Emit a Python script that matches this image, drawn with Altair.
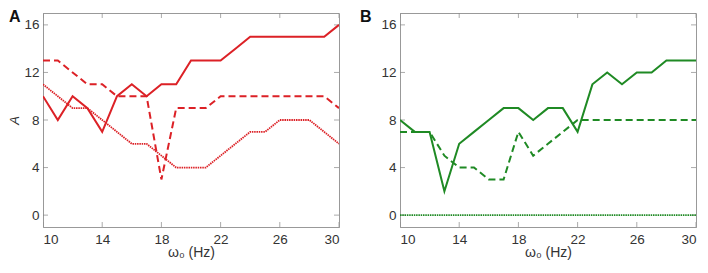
import altair as alt
import pandas as pd

freq = list(range(10, 31))

a_solid = [10, 8, 10, 9, 7, 10, 11, 10, 11, 11, 13, 13, 13, 14, 15, 15, 15, 15, 15, 15, 16]
a_dashed = [13, 13, 12, 11, 11, 10, 10, 10, 3, 9, 9, 9, 10, 10, 10, 10, 10, 10, 10, 10, 9]
a_dotted = [11, 10, 9, 9, 8, 7, 6, 6, 5, 4, 4, 4, 5, 6, 7, 7, 8, 8, 8, 7, 6]

b_solid = [8, 7, 7, 2, 6, 7, 8, 9, 9, 8, 9, 9, 7, 11, 12, 11, 12, 12, 13, 13, 13]
b_dashed = [7, 7, 7, 5, 4, 4, 3, 3, 7, 5, 6, 7, 8, 8, 8, 8, 8, 8, 8, 8, 8]
b_dotted = [0] * 21

x_ticks = [10, 14, 18, 22, 26, 30]
y_ticks = [0, 4, 8, 12, 16]
x_dom = [10, 30]
y_dom = [-1, 17]

RED = "#dc2126"
GREEN = "#1f8a24"
FONT = "Liberation Sans"
W, H = 296, 214


def panel(letter, series, color, ytitle):
    df = pd.DataFrame({"f": freq, "s": series[0], "d": series[1], "p": series[2]})
    xs = alt.Scale(domain=x_dom, nice=False, zero=False)
    ys = alt.Scale(domain=y_dom, nice=False, zero=False)
    xax = alt.Axis(values=x_ticks, tickSize=0, title="ω₀ (Hz)", grid=False, labelPadding=5,
                   titlePadding=0, titleFontSize=14)
    if ytitle:
        yax = alt.Axis(values=y_ticks, tickSize=0, title=ytitle, grid=False, labelPadding=4,
                       titleFontStyle="italic", titlePadding=2, titleFontSize=13)
    else:
        yax = alt.Axis(values=y_ticks, tickSize=0, title=None, grid=False, labelPadding=4)
    base = alt.Chart(df)
    solid = base.mark_line(color=color, strokeWidth=2, clip=True).encode(
        x=alt.X("f:Q", scale=xs, axis=xax), y=alt.Y("s:Q", scale=ys, axis=yax))
    dashed = base.mark_line(color=color, strokeWidth=2, strokeDash=[7, 4], clip=True).encode(
        x="f:Q", y="d:Q")
    dotted = base.mark_line(color=color, strokeWidth=1.8, strokeDash=[1.5, 0.8], clip=True).encode(
        x="f:Q", y="p:Q")

    tx = pd.DataFrame({"t": x_ticks})
    ty = pd.DataFrame({"t": y_ticks})
    tick_x_bot = alt.Chart(tx).mark_tick(orient="vertical", size=10, thickness=1,
                                         color="#888", clip=True).encode(
        x="t:Q", y=alt.datum(y_dom[0]))
    tick_x_top = alt.Chart(tx).mark_tick(orient="vertical", size=10, thickness=1,
                                         color="#888", clip=True).encode(
        x="t:Q", y=alt.datum(y_dom[1]))
    tick_y_l = alt.Chart(ty).mark_tick(orient="horizontal", size=10, thickness=1,
                                       color="#888", clip=True).encode(
        y="t:Q", x=alt.datum(x_dom[0]))
    tick_y_r = alt.Chart(ty).mark_tick(orient="horizontal", size=10, thickness=1,
                                       color="#888", clip=True).encode(
        y="t:Q", x=alt.datum(x_dom[1]))
    lab = alt.Chart(pd.DataFrame({"l": [letter]})).mark_text(
        font=FONT, fontSize=16, fontWeight="bold", align="left", baseline="top",
        color="#111").encode(text="l:N", x=alt.value(-34 if ytitle else -40), y=alt.value(-4))
    return alt.layer(tick_x_bot, tick_x_top, tick_y_l, tick_y_r, dotted, dashed, solid,
                     lab).properties(width=W, height=H)


pa = panel("A", [a_solid, a_dashed, a_dotted], RED, "A")
pb = panel("B", [b_solid, b_dashed, b_dotted], GREEN, None)

chart = alt.hconcat(pa, pb, spacing=19).configure(padding=0).configure_view(
    stroke="#999", strokeWidth=1).configure_axis(
    domainColor="#999", labelFont=FONT, titleFont=FONT, labelFontSize=13.5,
    labelColor="#333", titleColor="#333", titleFontWeight="normal")

chart.save("out.html", embed_options={"renderer": "svg", "actions": False})
